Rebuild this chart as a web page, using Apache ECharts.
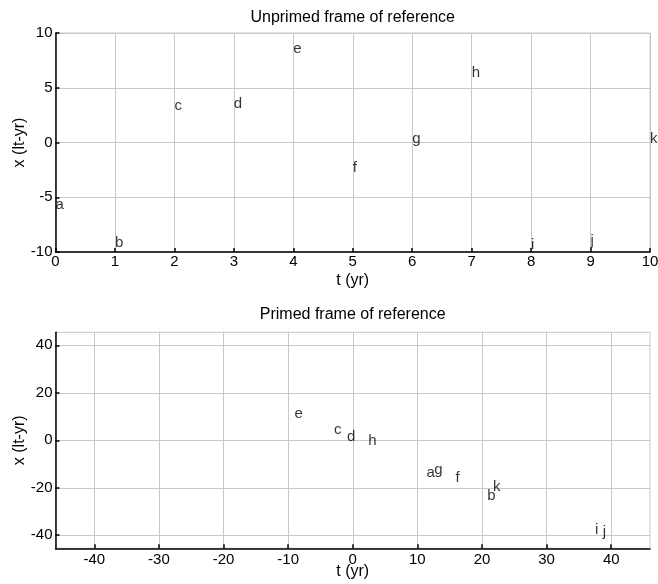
<!DOCTYPE html>
<html>
<head>
<meta charset="utf-8">
<script src="https://cdn.jsdelivr.net/npm/echarts@6/dist/echarts.min.js"></script>
<style>
html,body{margin:0;padding:0;background:#fff;}
#chart{width:658px;height:584px;}
</style>
</head>
<body>
<div id="chart"></div>
<script>
const eventNames = ['a','b','c','d','e','f','g','h','i','j','k'];
const unprimedT = [0, 1, 2, 3, 4, 5, 6, 7, 8, 9, 10];
const unprimedX = [-5.5, -9.0, 3.5, 3.7, 8.7, -2.1, 0.5, 6.5, -9.2, -8.8, 0.55];
const primedT = [11.4, 20.8, -2.9, -0.9, -9.0, 15.9, 12.6, 2.4, 37.5, 38.7, 21.7];
const primedX = [-13.0, -22.9, 5.2, 1.9, 11.8, -15.0, -11.8, 0.5, -36.9, -37.8, -18.9];
const topXTicks = [0,1,2,3,4,5,6,7,8,9,10];
const topYTicks = [-10,-5,0,5,10];
const botXTicks = [-40,-30,-20,-10,0,10,20,30,40];
const botYTicks = [-40,-20,0,20,40];

const FONT = 'Liberation Sans, Arial, Helvetica, sans-serif';
const GRIDC = '#c8c8c8';

function pts(ts, xs){ return ts.map((t,i)=>[t, xs[i], eventNames[i]]); }

function xAxisCfg(idx, min, max, ticks, labelMargin, nameGap){
  return {
    type:'value', gridIndex: idx, min, max,
    name: 't (yr)', nameLocation:'middle', nameGap, nameMoveOverlap:false,
    nameTextStyle:{fontFamily:FONT, fontSize:16, color:'#000'},
    axisLine:{show:true, onZero:false, lineStyle:{color:'#000', width:1.5}},
    axisTick:{show:true, inside:true, length:4, customValues: ticks, lineStyle:{color:'#000', width:1.5}},
    axisLabel:{show:true, customValues: ticks, margin: labelMargin, hideOverlap:false, fontFamily:FONT, fontSize:15, color:'#000'},
    splitLine:{show:true, lineStyle:{color:GRIDC, width:1}}
  };
}
function yAxisCfg(idx, min, max, ticks){
  return {
    type:'value', gridIndex: idx, min, max,
    name: 'x (lt-yr)', nameLocation:'middle', nameGap: 28, nameMoveOverlap:false,
    nameTextStyle:{fontFamily:FONT, fontSize:16, color:'#000'},
    axisLine:{show:true, onZero:false, lineStyle:{color:'#000', width:1.5}},
    axisTick:{show:true, inside:true, length:4, customValues: ticks, lineStyle:{color:'#000', width:1.5}},
    axisLabel:{show:true, customValues: ticks, margin: 3, fontFamily:FONT, fontSize:15, color:'#000'},
    splitLine:{show:true, lineStyle:{color:GRIDC, width:1}}
  };
}
function labelSeries(idx, data, dy){
  return {
    type:'scatter', xAxisIndex: idx, yAxisIndex: idx,
    data, symbolSize: 0, silent: true, clip: false,
    label:{show:true, position:'right', distance:0, offset:[0, dy], formatter: p => p.data[2],
      fontFamily:FONT, fontSize:15, color:'#000'}
  };
}

const chart = echarts.init(document.getElementById('chart'), null, {renderer:'canvas'});
chart.setOption({
  animation:false,
  backgroundColor:'#fff',
  grid:[
    {left:55.5, top:33, width:594.5, height:219, show:true, borderColor:GRIDC, borderWidth:1, containLabel:false, outerBoundsMode:'none'},
    {left:55.5, top:332.3, width:594.5, height:216, show:true, borderColor:GRIDC, borderWidth:1, containLabel:false, outerBoundsMode:'none'}
  ],
  xAxis:[ xAxisCfg(0, 0, 10, topXTicks, 2, 21), xAxisCfg(1, -46, 46, botXTicks, 4, 15) ],
  yAxis:[ yAxisCfg(0, -10, 10, topYTicks), yAxisCfg(1, -45.5, 45.5, botYTicks) ],
  graphic:[
    {type:'text', x:352.7, y:9.5, style:{text:'Unprimed frame of reference', fontFamily:FONT, fontSize:16, fill:'#000', textAlign:'center', textVerticalAlign:'top'}},
    {type:'text', x:352.7, y:306.5, style:{text:'Primed frame of reference', fontFamily:FONT, fontSize:16, fill:'#000', textAlign:'center', textVerticalAlign:'top'}}
  ],
  series:[ labelSeries(0, pts(unprimedT, unprimedX), 2), labelSeries(1, pts(primedT, primedX), 1.5) ]
});
</script>
</body>
</html>
